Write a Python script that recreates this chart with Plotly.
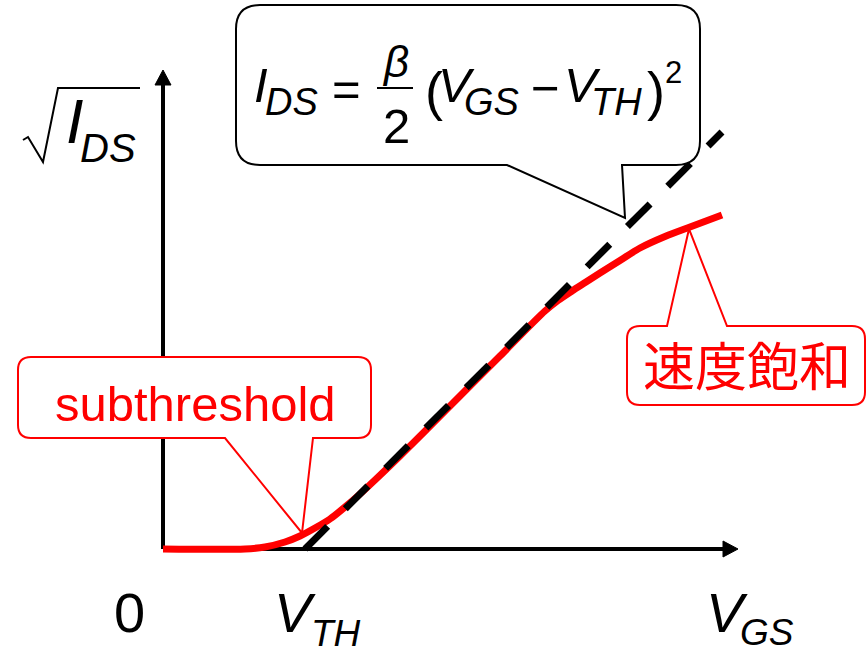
import plotly.graph_objects as go

# ---- data: sqrt(I_DS) versus V_GS ----------------------------------------
V_TH = 1.42          # threshold voltage (axis units)
SLOPE = 1.0          # sqrt(beta/2): slope of the square-law asymptote
V_GS_END = 5.59      # where the extrapolated line stops

vgs = [0.0, 0.82, 1.02, 1.22, 1.37, 1.52, 1.67, 1.82, 1.97, 2.12, 2.37,
       2.87, 3.37, 3.82, 3.95, 4.09, 4.23, 4.37, 4.57, 4.77, 5.02, 5.27, 5.59]
sqrt_ids = [0.0, 0.0, 0.02, 0.07, 0.13, 0.21, 0.30, 0.42, 0.55, 0.69, 0.93,
            1.43, 1.93, 2.38, 2.485, 2.58, 2.67, 2.76, 2.885, 3.01, 3.125, 3.22, 3.34]

x_axis_end = 5.75
y_axis_end = 4.79

line_x = [V_TH, V_GS_END]
line_y = [SLOPE * (v - V_TH) for v in line_x]

W, H = 867, 650
OX, OY, SCALE = 163, 549, 100   # canvas position of the origin, px per unit


# decorations are laid out in canvas pixels and mapped into axis units
def cx(px):
    return (px - OX) / SCALE


def cy(py):
    return (OY - py) / SCALE


def path(points, close=True):
    """Build an SVG path (axis units) from canvas-pixel commands."""
    out = []
    for cmd, *pts in points:
        coords = []
        for i in range(0, len(pts), 2):
            coords.append(f"{cx(pts[i]):.4f},{cy(pts[i + 1]):.4f}")
        out.append(cmd + " ".join(coords))
    s = " ".join(out)
    return s + (" Z" if close else "")


def callout(x0, y0, x1, y1, r, tail, color, side="bottom"):
    """Rounded rectangle with a pointed tail on its bottom or top edge."""
    ta, tip, tb = tail
    pts = [("M", x0 + r, y0)]
    if side == "top":
        pts += [("L", ta, y0), ("L", tip[0], tip[1]), ("L", tb, y0)]
    pts += [("L", x1 - r, y0), ("Q", x1, y0, x1, y0 + r),
            ("L", x1, y1 - r), ("Q", x1, y1, x1 - r, y1)]
    if side == "bottom":
        pts += [("L", tb, y1), ("L", tip[0], tip[1]), ("L", ta, y1)]
    pts += [("L", x0 + r, y1), ("Q", x0, y1, x0, y1 - r),
            ("L", x0, y0 + r), ("Q", x0, y0, x0 + r, y0)]
    fig.add_shape(type="path", path=path(pts), line=dict(color=color, width=2),
                  fillcolor="white", layer="above")


MATH = "Liberation Sans, Arial, sans-serif"
CJK = "Noto Sans CJK JP, sans-serif"
RED = "#ff0000"

fig = go.Figure()

# measured curve and the square-law asymptote drawn over it
fig.add_trace(go.Scatter(x=vgs, y=sqrt_ids, mode="lines",
                         line=dict(color=RED, width=7, shape="spline", smoothing=0.8),
                         hoverinfo="skip"))
fig.add_trace(go.Scatter(x=line_x, y=line_y, mode="lines",
                         line=dict(color="black", width=7, dash="32px,25px"),
                         hoverinfo="skip"))

# axes with arrow heads
fig.add_shape(type="line", x0=0, y0=0, x1=x_axis_end - 0.15, y1=0,
              line=dict(color="black", width=4), layer="below")
fig.add_shape(type="line", x0=0, y0=0, x1=0, y1=y_axis_end - 0.15,
              line=dict(color="black", width=4), layer="below")
ax_tip = (OX + x_axis_end * SCALE, OY)
fig.add_shape(type="path",
              path=path([("M", ax_tip[0] - 15, ax_tip[1] - 8), ("L", ax_tip[0], ax_tip[1]),
                         ("L", ax_tip[0] - 15, ax_tip[1] + 8)]),
              fillcolor="black", line=dict(color="black", width=1))
ay_tip = (OX, OY - y_axis_end * SCALE)
fig.add_shape(type="path",
              path=path([("M", ay_tip[0] - 8, ay_tip[1] + 15), ("L", ay_tip[0], ay_tip[1]),
                         ("L", ay_tip[0] + 8, ay_tip[1] + 15)]),
              fillcolor="black", line=dict(color="black", width=1))

# call-outs
callout(236, 5, 700, 165, 24, (507, (625, 218), 622), "black", side="bottom")
callout(18, 357, 371, 438, 13, (225, (302, 533), 313), RED, side="bottom")
callout(627, 326, 865, 405, 13, (667, (689, 229), 727), RED, side="top")


def label(text, px, py, size, italic=False, family=MATH, color="black", anchor="center"):
    fig.add_annotation(x=cx(px), y=cy(py), text=f"<i>{text}</i>" if italic else text,
                       showarrow=False, xanchor=anchor, yanchor="middle",
                       font=dict(family=family, size=size, color=color))


# I_DS = beta/2 (V_GS - V_TH)^2
label("I", 261, 84.5, 49, italic=True)
label("DS", 291, 101.5, 38, italic=True)
label("=", 346, 89, 49)
label("β", 395, 61, 44, italic=True)
fig.add_shape(type="line", x0=cx(377), y0=cy(88), x1=cx(413), y1=cy(88),
              line=dict(color="black", width=2), layer="above")
label("2", 396, 125.5, 49)
label("(", 434, 91, 54)
label("V", 456, 84.5, 49, italic=True)
label("GS", 491, 101.5, 38, italic=True)
label("−", 545, 88, 49)
label("V", 582, 84.5, 49, italic=True)
label("TH", 616, 101.5, 38, italic=True)
label(")", 656, 91, 54)
label("2", 673, 72, 31)

# sqrt(I_DS) axis title
fig.add_shape(type="path",
              path=path([("M", 23, 140), ("L", 28, 137), ("L", 43, 162), ("L", 58, 88),
                         ("L", 140, 88)], close=False),
              line=dict(color="black", width=2), layer="above")
label("I", 74.5, 120.5, 63, italic=True)
label("DS", 108, 147.5, 40, italic=True)

# V_GS axis labels
label("0", 129, 612, 56)
label("V", 294.5, 612, 56, italic=True)
label("TH", 336, 633.5, 37, italic=True)
label("V", 726.5, 612, 56, italic=True)
label("GS", 766.5, 632, 37, italic=True)

# call-out texts
label("subthreshold", 195, 404, 49, color=RED)
label("速度飽和", 746.5, 363.5, 52, family=CJK, color=RED)

fig.update_layout(
    width=W, height=H, margin=dict(l=0, r=0, t=0, b=0),
    paper_bgcolor="white", plot_bgcolor="white", showlegend=False,
    xaxis=dict(range=[cx(0), cx(W)], visible=False, fixedrange=True),
    yaxis=dict(range=[cy(H), cy(0)], visible=False, fixedrange=True),
)

fig.write_html("out.html")
